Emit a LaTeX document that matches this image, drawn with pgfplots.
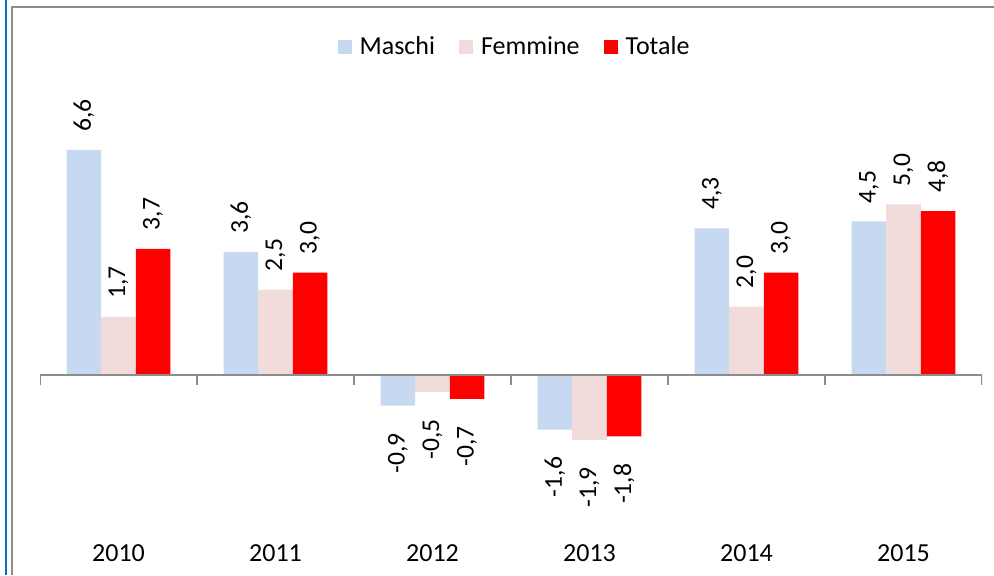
\documentclass[border=0pt]{standalone}
\usepackage{pgfplots}
\pgfplotsset{compat=1.18}
\usepackage{fontspec}
\setmainfont{Carlito}
\definecolor{cM}{HTML}{C6D9F1}
\definecolor{cF}{HTML}{F2DCDB}
\definecolor{cT}{HTML}{FF0000}
\definecolor{frameblue}{HTML}{0070C0}
\definecolor{framegray}{HTML}{8C8C8C}
\definecolor{axgray}{HTML}{8C8C8C}
\begin{document}
\begin{tikzpicture}
\useasboundingbox (0,0) rectangle (497pt,287.5pt);
\draw[frameblue, line width=1pt] (2.9pt,0) -- (2.9pt,287.5pt);
\draw[framegray, line width=1pt] (6pt,0) -- (6pt,283.8pt) -- (497pt,283.8pt);
\begin{axis}[
  at={(20pt,18.5pt)}, anchor=south west,
  scale only axis, width=471pt, height=234pt,
  xmin=-0.5, xmax=5.5, ymin=-4.78, ymax=8.94,
  axis line style={draw=none},
  ytick=\empty,
  xtick={0,...,5},
  xticklabels={2010,2011,2012,2013,2014,2015},
  major tick length=0pt,
  tick label style={font=\fontsize{13}{15}\selectfont},
  ybar, bar width=0.22,
  visualization depends on={rawy \as \rawy},
  nodes near coords={\ifdim\rawy pt<0pt\else\kern7.5pt\fi\pgfmathprintnumber[fixed,fixed zerofill,precision=1,use comma,assume math mode=true]{\pgfplotspointmeta}\ifdim\rawy pt<0pt\kern12pt\fi},
  every node near coord/.append style={rotate=90, anchor={\ifdim\rawy pt<0pt east\else west\fi}, inner sep=1.5pt, font=\fontsize{12.8}{14}\selectfont, text=black},
  legend columns=3,
  legend style={draw=none, at={(0.5048,1.049)}, anchor=center, font=\fontsize{13}{15}\selectfont,
    /tikz/every even column/.append style={column sep=10pt}},
  legend image code/.code={\fill[#1] (0pt,-3.7pt) rectangle (7.2pt,3.7pt); \path (9pt,0pt);},
]
\addplot[fill=cM, draw=none, bar shift=-0.22] coordinates {(0,6.6) (1,3.6) (2,-0.9) (3,-1.6) (4,4.3) (5,4.5)};
\addplot[fill=cF, draw=none, bar shift=0] coordinates {(0,1.7) (1,2.5) (2,-0.5) (3,-1.9) (4,2.0) (5,5.0)};
\addplot[fill=cT, draw=none, bar shift=0.22] coordinates {(0,3.7) (1,3.0) (2,-0.7) (3,-1.8) (4,3.0) (5,4.8)};
\legend{Maschi, Femmine, Totale}
\draw[axgray, line width=0.8pt] (axis cs:-0.5,0) -- (axis cs:5.5,0);
\pgfplotsinvokeforeach{-0.5,0.5,1.5,2.5,3.5,4.5,5.5}{\draw[axgray, line width=0.8pt] (axis cs:#1,0) -- ++(0pt,-5pt);}
\end{axis}
\end{tikzpicture}
\end{document}
